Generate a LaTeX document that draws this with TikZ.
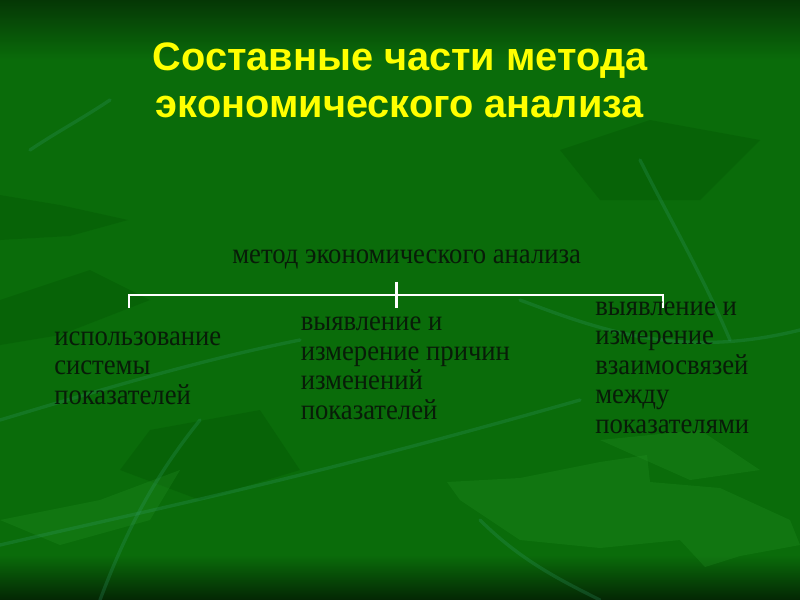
\documentclass[tikz,border=0pt]{standalone}
\usepackage{fontspec}
\setmainfont{Liberation Serif}[FakeStretch=0.92]
\newfontfamily\titlefont{Liberation Sans}
\definecolor{bgmid}{RGB}{10,108,10}
\definecolor{bgdark}{RGB}{5,55,5}
\definecolor{leaflight}{RGB}{40,150,40}
\definecolor{leafdark}{RGB}{0,75,0}
\definecolor{stemcol}{RGB}{50,155,110}
\definecolor{titleyellow}{RGB}{255,255,0}
\definecolor{bodytext}{RGB}{8,28,8}
\tikzset{
  titletext/.style={font=\titlefont\bfseries\fontsize{29.8}{35.2}\selectfont, text=titleyellow, align=center, inner sep=0pt},
  bodytextstyle/.style={font=\fontsize{21.75}{22.1}\selectfont, text=bodytext, align=left, inner sep=0pt},
  bracketline/.style={draw=white, line width=1.6pt},
  leafL/.style={fill=leaflight, opacity=0.25},
  leafD/.style={fill=leafdark, opacity=0.25},
  stem/.style={draw=stemcol, opacity=0.25, line width=2.5pt, line cap=round},
}
\begin{document}
\begin{tikzpicture}[x=0.75pt,y=-0.75pt]
\useasboundingbox (0,0) rectangle (800,600);
% background
\fill[bgmid] (0,0) rectangle (800,600);
\shade[top color=bgdark, bottom color=bgmid] (0,0) rectangle (800,60);
\shade[top color=bgmid, bottom color=bgdark!70!black] (0,555) rectangle (800,600);
% leaves
\fill[leafD] (0,195) -- (60,205) -- (128,220) -- (70,236) -- (0,240) -- cycle;
\fill[leafD] (0,300) -- (90,270) -- (150,300) -- (60,335) -- (0,345) -- cycle;
\fill[leafD] (560,150) -- (650,120) -- (760,140) -- (700,200) -- (600,200) -- cycle;
\fill[leafD] (150,430) -- (260,410) -- (300,470) -- (200,500) -- (120,470) -- cycle;
\fill[leafL] (447,482) -- (520,478) -- (600,462) -- (647,455) -- (650,482) -- (720,488) -- (790,520) -- (800,545) -- (740,556) -- (705,567) -- (680,540) -- (600,548) -- (520,540) -- (460,500) -- cycle;
\fill[leafL] (600,440) -- (700,430) -- (760,470) -- (690,480) -- cycle;
\fill[leafL] (0,520) -- (100,500) -- (180,470) -- (150,520) -- (60,545) -- cycle;
% stems
\draw[stem] (0,545) .. controls (150,510) and (300,480) .. (580,400);
\draw[stem] (520,300) .. controls (600,330) and (680,360) .. (800,330);
\draw[stem] (640,160) .. controls (670,220) and (700,270) .. (730,340);
\draw[stem] (0,420) .. controls (100,390) and (200,360) .. (300,340);
\draw[stem] (100,600) .. controls (130,520) and (160,470) .. (200,420);
\draw[stem] (480,520) .. controls (520,560) and (560,580) .. (600,600);
\draw[stem] (30,150) .. controls (60,130) and (80,120) .. (110,100);
% title
\node[titletext, anchor=base] (title) at (400,117) {Составные части метода\\экономического анализа};
% root
\node[bodytextstyle, anchor=base west] (root) at (232,263) {метод экономического анализа};
% bracket
\coordinate (bl) at (129,308);
\coordinate (bltop) at (129,295);
\coordinate (br) at (663,308);
\coordinate (brtop) at (663,295);
\coordinate (bc) at (396.5,308);
\coordinate (bctop) at (396.5,281.5);
\draw[bracketline] (bl) -- (bltop) -- (brtop) -- (br);
\draw[bracketline] (bctop) -- (bc);
% children
\node[bodytextstyle, anchor=base west] (c1) at (54,404) {использование\\системы\\показателей};
\node[bodytextstyle, anchor=base west] (c2) at (300.5,419) {выявление и\\измерение причин\\изменений\\показателей};
\node[bodytextstyle, anchor=base west] (c3) at (595,433.3) {выявление и\\измерение\\взаимосвязей\\между\\показателями};
\end{tikzpicture}
\end{document}
